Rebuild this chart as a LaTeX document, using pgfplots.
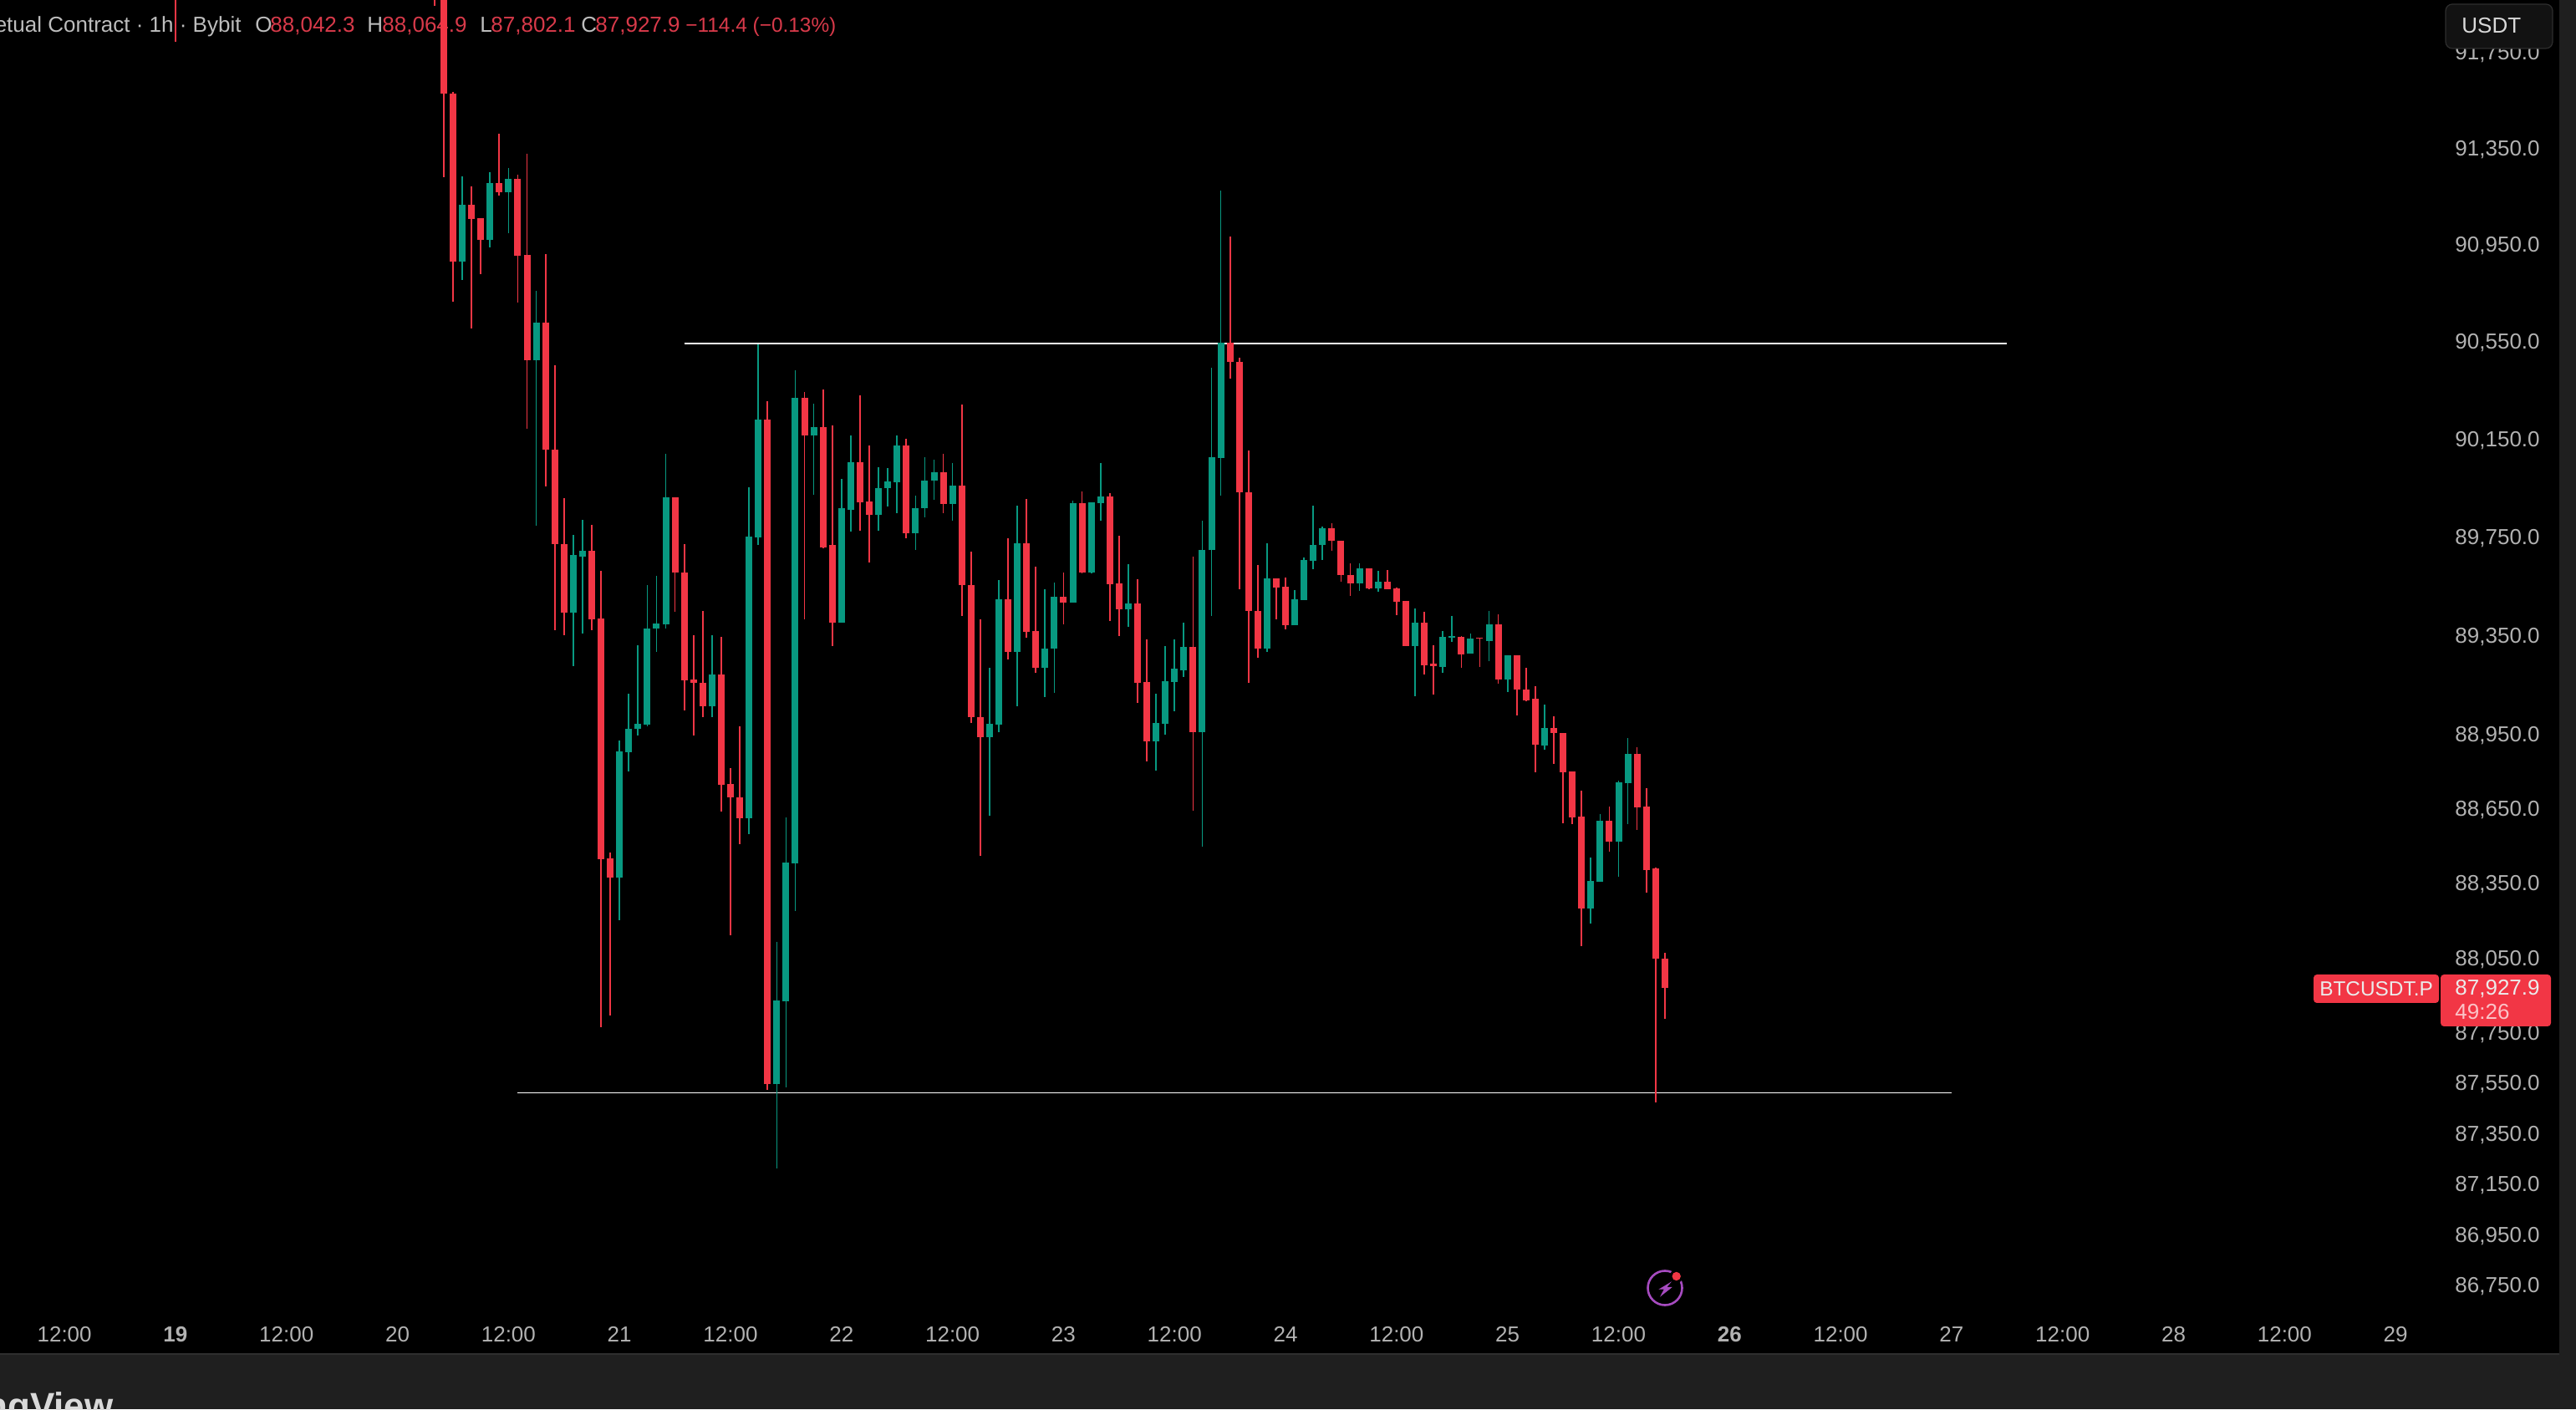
\documentclass[border=0pt]{standalone}
\usepackage{fontspec}
\setmainfont{Liberation Sans}
\usepackage{pgfplots}
\usepackage{pgfplotstable}
\pgfplotsset{compat=1.18}
\definecolor{tvred}{HTML}{F23645}
\definecolor{tvgreen}{HTML}{089981}
\definecolor{panel}{HTML}{1F1F1F}
\definecolor{sep}{HTML}{2E2E2E}
\definecolor{lbl}{HTML}{B2B2B2}
\definecolor{hdr}{HTML}{BDBDBD}
\definecolor{hdrred}{HTML}{D83A4A}
\definecolor{purp}{HTML}{A64BC0}
\pgfplotstableread{
t o h l c
0 92300 92400 91789 92200
28 92300 92400 91940 92200
29 92100 92200 91225 91574
30 91577 91581 90712 90878
31 90878 91229 90801 91115
32 91115 91187 90601 91052
33 91056 91056 90825 90966
34 90966 91246 90937 91201
35 91201 91406 91151 91163
36 91163 91264 90994 91219
37 91219 91238 90709 90900
38 90904 91326 90190 90470
39 90470 90756 89793 90625
40 90625 90909 89950 90103
41 90106 90448 89368 89717
42 89719 89905 89347 89438
43 89438 89755 89223 89673
44 89669 89816 89353 89691
45 89691 89795 89368 89409
46 89414 89609 87769 88442
47 88445 88470 87816 88369
48 88369 88922 88197 88876
49 88873 89110 88793 88968
50 88965 89307 88941 88990
51 88985 89550 88978 89374
52 89374 89588 89279 89394
53 89391 90089 89374 89908
54 89908 89908 89443 89602
55 89602 89717 89042 89164
56 89167 89350 88941 89154
57 89154 89445 89017 89058
58 89060 89348 89017 89187
59 89187 89340 88635 88742
60 88745 88809 88138 88691
61 88691 88978 88504 88607
62 88607 89949 88546 89748
63 89744 90536 89712 90226
64 90226 90305 87521 87542
65 87542 88111 87208 87876
66 87873 88610 87530 88428
67 88425 90427 88234 90319
68 90319 90340 89408 90161
69 90161 90295 89918 90195
70 90195 90351 89703 89705
71 89714 90202 89303 89397
72 89397 89982 89397 89865
73 89860 90161 89767 90052
74 90052 90328 89773 89888
75 89891 90121 89643 89837
76 89837 90031 89772 89946
77 89946 90028 89871 89973
78 89970 90163 89843 90121
79 90121 90151 89739 89762
80 89762 89915 89697 89865
81 89865 90071 89826 89977
82 89977 90062 89899 90011
83 90011 90089 89843 89881
84 89881 90050 89813 89959
85 89959 90286 89426 89553
86 89553 89687 88993 89016
87 89016 89411 88455 88936
88 88936 89214 88617 88988
89 88985 89571 88954 89492
90 89492 89739 89248 89282
91 89282 89874 89059 89720
92 89720 89902 89337 89360
93 89364 89626 89196 89214
94 89214 89536 89096 89292
95 89292 89561 89113 89503
96 89503 89601 89393 89479
97 89479 89896 89479 89885
98 89885 89935 89599 89601
99 89601 89888 89596 89888
100 89885 90050 89813 89912
101 89912 89925 89406 89554
102 89557 89751 89343 89452
103 89452 89634 89380 89475
104 89475 89574 89072 89154
105 89157 89330 88836 88917
106 88917 89110 88799 88994
107 88991 89303 88944 89161
108 89157 89330 89037 89211
109 89205 89397 89177 89299
110 89299 89669 88638 88954
111 88954 89813 88492 89697
112 89693 90439 89426 90072
113 90069 91170 89913 90543
114 90543 90982 90392 90463
115 90467 90482 89533 89929
116 89929 90100 89154 89445
117 89448 89632 89255 89290
118 89290 89720 89279 89577
119 89577 89577 89408 89540
120 89543 89579 89369 89385
121 89385 89530 89385 89492
122 89490 89664 89490 89652
123 89649 89874 89615 89714
124 89714 89792 89652 89782
125 89782 89802 89690 89731
126 89734 89734 89567 89591
127 89594 89640 89508 89557
128 89557 89642 89528 89618
129 89618 89618 89533 89537
130 89537 89608 89523 89567
131 89567 89611 89535 89536
132 89537 89540 89428 89482
133 89486 89486 89304 89304
134 89304 89455 89098 89397
135 89397 89443 89187 89227
136 89231 89309 89107 89224
137 89221 89364 89195 89340
138 89336 89425 89319 89343
139 89340 89343 89214 89269
140 89271 89355 89271 89333
141 89336 89336 89218 89331
142 89326 89448 89241 89391
143 89391 89429 89150 89167
144 89167 89262 89115 89262
145 89262 89262 89022 89124
146 89127 89214 89079 89084
147 89089 89140 88792 88903
148 88901 89066 88884 88972
149 88972 89018 88827 88951
150 88951 88951 88590 88792
151 88796 88796 88583 88610
152 88614 88716 88095 88244
153 88244 88449 88182 88355
154 88353 88624 88353 88595
155 88595 88655 88473 88512
156 88512 88758 88373 88750
157 88747 88930 88583 88866
158 88866 88893 88563 88651
159 88654 88728 88309 88400
160 88405 88409 87471 88042
161 88042 88065 87802 87928
}\ohlc
\pgfplotstablegetrowsof{\ohlc}
\pgfmathtruncatemacro{\lastrow}{\pgfplotsretval-1}
\newcommand{\lblfont}{\fontsize{13}{15}\selectfont}
\begin{document}
\begin{tikzpicture}
\path[use as bounding box] (0,0) rectangle (1541pt,843pt);
\clip (0,0) rectangle (1541pt,843pt);
\fill[panel] (0,0) rectangle (1541pt,843pt);
\fill[black] (0,33pt) rectangle (1531pt,843pt);
\draw[sep,line width=1pt] (0,33pt) -- (1531pt,33pt);
\begin{scope}[x=0.5pt,y=-0.5pt,yshift=843pt]
\node[anchor=base east,inner sep=0,text=white!85!black,font=\fontsize{22}{24}\selectfont\bfseries] at (136,1697) {TradingView};
\tikzset{hd/.style={anchor=base west,inner sep=0,font=\lblfont}}
\node[hd,anchor=base east,text=hdr] at (289,39) {Bitcoin / TetherUS Perpetual Contract · 1h · Bybit};
\node[hd,text=hdr] at (305,39) {O};
\node[hd,text=hdrred] at (323,39) {88,042.3};
\node[hd,text=hdr] at (439,39) {H};
\node[hd,text=hdrred] at (457,39) {88,064.9};
\node[hd,text=hdr] at (574,39) {L};
\node[hd,text=hdrred] at (587,39) {87,802.1};
\node[hd,text=hdr] at (695,39) {C};
\node[hd,text=hdrred] at (712,39) {87,927.9};
\node[hd,text=hdrred,font=\fontsize{12.2}{14}\selectfont] at (820,39) {−114.4 (−0.13\%)};
\end{scope}
\begin{axis}[
  at={(0,33pt)},anchor=south west,
  scale only axis,width=1531pt,height=810pt,
  y coord trafo/.code={\begingroup\pgfkeys{/pgf/fpu=true,/pgf/fpu/output format=fixed}\pgfmathparse{ln(#1)*26330}\xdef\mytrafo{\pgfmathresult}\endgroup\let\pgfmathresult\mytrafo},
  xmin=-18.97,xmax=257.7,ymin=86475,ymax=91964,
  axis line style={draw=none},
  major tick length=0pt,minor tick length=0pt,
  tick style={draw=none},
  xtick={-12,0,...,240},
  xticklabels={12:00,\textbf{19},12:00,20,12:00,21,12:00,22,12:00,23,12:00,24,12:00,25,12:00,\textbf{26},12:00,27,12:00,28,12:00,29},
  xticklabel style={anchor=center,yshift=11.7pt,text=lbl,font=\lblfont,inner sep=0pt},
  ytick={91750,91350,90950,90550,90150,89750,89350,88950,88650,88350,88050,87750,87550,87350,87150,86950,86750},
  yticklabels={{91,750.0},{91,350.0},{90,950.0},{90,550.0},{90,150.0},{89,750.0},{89,350.0},{88,950.0},{88,650.0},{88,350.0},{88,050.0},{87,750.0},{87,550.0},{87,350.0},{87,150.0},{86,950.0},{86,750.0}},
  yticklabel pos=right,
  yticklabel style={anchor=east,xshift=-11.5pt,yshift=-1.2pt,text=lbl,font=\lblfont,inner sep=0pt},
  clip=true,
]
\addplot[white,line width=0.8pt,forget plot] coordinates {(55,90540)(198,90540)};
\addplot[white,line width=0.8pt,forget plot] coordinates {(37,87509)(192,87509)};
\pgfplotsforeachungrouped \i in {0,...,\lastrow}{%
  \pgfplotstablegetelem{\i}{t}\of\ohlc \edef\vt{\pgfplotsretval}%
  \pgfplotstablegetelem{\i}{o}\of\ohlc \edef\vo{\pgfplotsretval}%
  \pgfplotstablegetelem{\i}{h}\of\ohlc \edef\vh{\pgfplotsretval}%
  \pgfplotstablegetelem{\i}{l}\of\ohlc \edef\vl{\pgfplotsretval}%
  \pgfplotstablegetelem{\i}{c}\of\ohlc \edef\vc{\pgfplotsretval}%
  \ifnum\vo>\vc \def\col{tvred}\else \def\col{tvgreen}\fi
  \edef\cmd{%
    \noexpand\addplot[\col,line width=0.85pt,line cap=butt,forget plot] coordinates {(\vt,\vh)(\vt,\vl)};%
    \noexpand\addplot[\col,line width=4pt,line cap=butt,forget plot] coordinates {(\vt,\vo)(\vt,\vc)};%
  }\cmd
}
\end{axis}
\begin{scope}[x=0.5pt,y=-0.5pt,yshift=843pt]
\filldraw[fill=black!93!white,draw=sep,rounded corners=4pt,line width=0.6pt] (2926,5) rectangle (3054,58);
\node[anchor=west,inner sep=0,text=white!85!black,font=\lblfont] at (2945,31) {USDT};
\fill[tvred,rounded corners=2pt] (2768,1166) rectangle (2918,1200);
\fill[tvred,rounded corners=2pt] (2920,1166) rectangle (3052,1228);
\node[inner sep=0,text=white!92!black,font=\fontsize{12.2}{14}\selectfont] at (2843,1183) {BTCUSDT.P};
\node[anchor=west,inner sep=0,text=white!92!black,font=\lblfont] at (2937,1183) {87,927.9};
\node[anchor=west,inner sep=0,text=white!70!tvred,font=\lblfont] at (2937,1211) {49:26};
\filldraw[fill=black,draw=purp,line width=1.3pt] (1992,1541) circle[radius=20.5];
\fill[purp] (2000,1533.3) -- (1984.3,1542.7) -- (1990.7,1542.7) -- (1986,1551.7) -- (2000.7,1540) -- (1994.3,1540) -- cycle;
\fill[black] (2005.7,1527) circle[radius=8];
\fill[tvred] (2005.7,1527) circle[radius=5.2];
\end{scope}
\end{tikzpicture}
\end{document}
